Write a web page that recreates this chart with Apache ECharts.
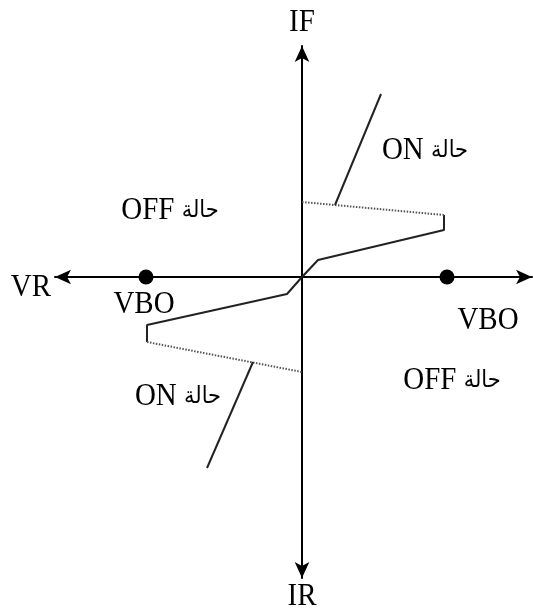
<!DOCTYPE html>
<html>
<head>
<meta charset="utf-8">
<script src="https://cdn.jsdelivr.net/npm/echarts@6/dist/echarts.min.js"></script>
<style>
  html, body { margin: 0; padding: 0; background: #fff; }
  #chart { width: 533px; height: 610px; }
</style>
</head>
<body>
<div id="chart"></div>
<script>
// خصائص الدياك - units are arbitrary (V, I)
var forwardRise = [[0, 0], [1.6, 1.7], [14.2, 4.7], [14.2, 6.2]];
var forwardDrop = [[14.2, 6.2], [0, 7.5]];
var forwardOn = [[3.3, 7.2], [7.9, 18.3]];
var reverseRise = [[0, 0], [-1.5, -1.7], [-15.5, -4.8], [-15.5, -6.5]];
var reverseDrop = [[-15.5, -6.5], [0, -9.5]];
var reverseOn = [[-4.9, -8.5], [-9.5, -19.1]];
var breakoverPoints = [[14.5, 0], [-15.6, 0]];

var FONT = '"Liberation Serif", "DejaVu Serif", serif';

var chart = echarts.init(document.getElementById('chart'));

function solid(data) {
  return {
    type: 'line', data: data, symbol: 'none', silent: true,
    lineStyle: { color: '#222', width: 2 }
  };
}
function dotted(data) {
  return {
    type: 'line', data: data, symbol: 'none', silent: true,
    lineStyle: { color: '#555', width: 2, type: [1.5, 1.5] }
  };
}

// plain latin label
function txt(x, y, s) {
  return {
    type: 'text', x: x, y: y, scaleY: 1.1,
    style: { text: s, fontFamily: FONT, fontSize: 29, fill: '#000', align: 'center', verticalAlign: 'middle' }
  };
}
// "OFF حالة" type label, arabic part a bit smaller
function state(x, y, s) {
  return {
    type: 'text', x: x, y: y, scaleY: 1.1,
    style: {
      text: s + ' {ar|حالة}', fontFamily: FONT, fontSize: 29, fill: '#000',
      align: 'center', verticalAlign: 'middle',
      rich: { ar: { fontFamily: '"DejaVu Sans", sans-serif', fontSize: 21, fill: '#000' } }
    }
  };
}

chart.setOption({
  animation: false,
  backgroundColor: '#fff',
  grid: { left: 55, right: 1, top: 46, bottom: 32 },
  xAxis: {
    type: 'value', min: -24.7, max: 23.0,
    axisLine: { onZero: true, lineStyle: { color: '#000', width: 2 }, symbol: ['arrow', 'arrow'], symbolSize: [11, 16] },
    axisTick: { show: false }, axisLabel: { show: false }, splitLine: { show: false }
  },
  yAxis: {
    type: 'value', min: -30.1, max: 23.1,
    axisLine: { onZero: true, lineStyle: { color: '#000', width: 2 }, symbol: ['arrow', 'arrow'], symbolSize: [11, 16] },
    axisTick: { show: false }, axisLabel: { show: false }, splitLine: { show: false }
  },
  series: [
    solid(forwardRise), dotted(forwardDrop), solid(forwardOn),
    solid(reverseRise), dotted(reverseDrop), solid(reverseOn),
    {
      type: 'scatter', data: breakoverPoints, symbol: 'circle', symbolSize: 15,
      itemStyle: { color: '#000', opacity: 1 }, silent: true
    }
  ],
  graphic: [
    txt(302, 23, 'IF'),
    txt(302, 597, 'IR'),
    txt(31, 288, 'VR'),
    txt(144, 305, 'VBO'),
    txt(488, 321, 'VBO'),
    state(425, 151, 'ON'),
    state(170, 211, 'OFF'),
    state(178, 397, 'ON'),
    state(452, 381, 'OFF')
  ]
});
</script>
</body>
</html>
